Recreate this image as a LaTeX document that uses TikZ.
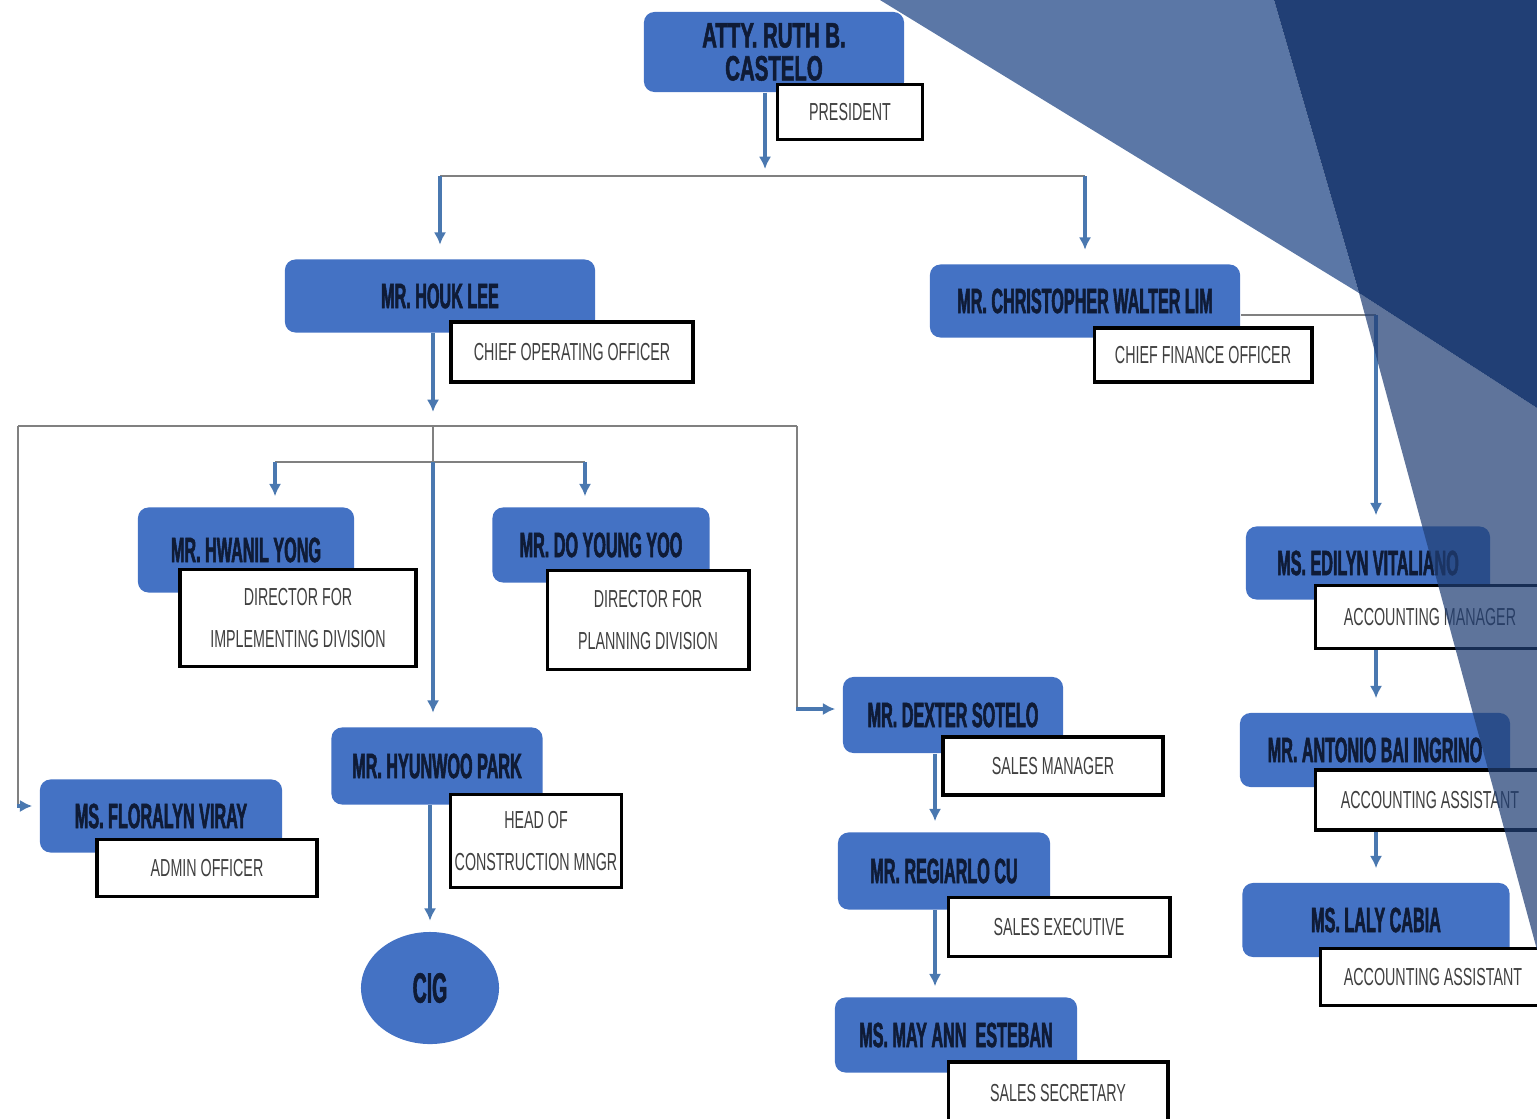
\documentclass[tikz,border=0pt]{standalone}
\usepackage{fontspec}
\usepackage{tikz}
\usetikzlibrary{shapes,arrows,arrows.meta,positioning}
\newfontfamily\namefont[FakeStretch=0.46,BoldFeatures={FakeBold=1.5}]{Liberation Sans}
\newfontfamily\presfont[FakeStretch=0.58,BoldFeatures={FakeBold=1.5}]{Liberation Sans}
\newfontfamily\titlefont[FakeStretch=0.58]{Liberation Sans}
\definecolor{boxblue}{HTML}{4472C4}
\definecolor{namecol}{HTML}{0F1B36}
\definecolor{linkblue}{HTML}{4A78B0}
\definecolor{slate}{HTML}{5B77A6}
\definecolor{navy}{HTML}{213F75}

\begin{document}
\begin{tikzpicture}[x=0.01cm, y=-0.01cm, >={Latex[length=3.5pt,width=3.5pt]},
  namebox/.style={rectangle, rounded corners=3pt, fill=boxblue, text=namecol,
    font=\namefont\bfseries\fontsize{10}{11}\selectfont, inner sep=0pt},
  titlebox/.style={rectangle, draw=black, line width=1.1pt, fill=white, text=black!75,
    font=\titlefont\fontsize{7}{12}\selectfont, align=center, inner sep=0pt},
  link/.style={->, draw=linkblue, line width=1.1pt, shorten >=2pt},
  bus/.style={draw=black!50, line width=0.6pt}]
  \useasboundingbox (0,0) rectangle (1537,1118);
  \clip (0,0) rectangle (1537,1118);

  \coordinate (top) at (765,176);
  \coordinate (mid) at (433,426);
  \coordinate (sub) at (433,462);
  \coordinate (left) at (18,426);
  \coordinate (right) at (797,426);
  \coordinate (sales) at (935,0);
  \coordinate (acct) at (1376,0);

  \node[namebox, minimum width=2.6cm, minimum height=0.8cm, align=center,
    font=\presfont\bfseries\fontsize{10}{9.4}\selectfont] (pres) at (774,52) {ATTY. RUTH B.\\CASTELO};
  \node[titlebox, minimum width=1.45cm, minimum height=0.55cm] (pres-t) at (850,112) {PRESIDENT};

  \node[namebox, minimum width=3.1cm, minimum height=0.73cm] (houk) at (440,296) {MR. HOUK LEE};
  \node[titlebox, minimum width=2.42cm, minimum height=0.6cm] (houk-t) at (572,352) {CHIEF OPERATING OFFICER};

  \node[namebox, minimum width=3.1cm, minimum height=0.73cm] (cfo) at (1085,301) {MR. CHRISTOPHER WALTER LIM};
  \node[titlebox, minimum width=2.17cm, minimum height=0.54cm] (cfo-t) at (1203,355) {CHIEF FINANCE OFFICER};

  \node[namebox, minimum width=2.16cm, minimum height=0.85cm] (hwanil) at (246,550) {MR. HWANIL YONG};
  \node[titlebox, minimum width=2.36cm, minimum height=0.97cm] (hwanil-t) at (298,618) {DIRECTOR FOR\\IMPLEMENTING DIVISION};

  \node[namebox, minimum width=2.17cm, minimum height=0.75cm] (doyoung) at (601,545) {MR. DO YOUNG YOO};
  \node[titlebox, minimum width=2.01cm, minimum height=0.99cm] (doyoung-t) at (648,620) {DIRECTOR FOR\\PLANNING DIVISION};

  \node[namebox, minimum width=2.11cm, minimum height=0.77cm] (hyunwoo) at (437,766) {MR. HYUNWOO PARK};
  \node[titlebox, minimum width=1.71cm, minimum height=0.93cm] (hyunwoo-t) at (536,841) {HEAD OF\\CONSTRUCTION MNGR};
  \node[ellipse, fill=boxblue, text=namecol, minimum width=1.38cm, minimum height=1.12cm,
    font=\namefont\bfseries\fontsize{12}{13}\selectfont] (cig) at (430,988) {CIG};

  \node[namebox, minimum width=2.42cm, minimum height=0.73cm] (floralyn) at (161,816) {MS. FLORALYN VIRAY};
  \node[titlebox, minimum width=2.2cm, minimum height=0.57cm] (floralyn-t) at (207,868) {ADMIN OFFICER};

  \node[namebox, minimum width=2.2cm, minimum height=0.76cm] (dexter) at (953,715) {MR. DEXTER SOTELO};
  \node[titlebox, minimum width=2.2cm, minimum height=0.58cm] (dexter-t) at (1053,766) {SALES MANAGER};

  \node[namebox, minimum width=2.12cm, minimum height=0.77cm] (regiarlo) at (944,871) {MR. REGIARLO CU};
  \node[titlebox, minimum width=2.21cm, minimum height=0.59cm] (regiarlo-t) at (1059,927) {SALES EXECUTIVE};

  \node[namebox, minimum width=2.42cm, minimum height=0.75cm] (mayann) at (956,1035) {MS. MAY ANN\ \ ESTEBAN};
  \node[titlebox, minimum width=2.19cm, minimum height=0.62cm] (mayann-t) at (1058,1093) {SALES SECRETARY};

  \node[namebox, minimum width=2.44cm, minimum height=0.73cm] (edilyn) at (1368,563) {MS. EDILYN VITALIANO};
  \node[titlebox, minimum width=2.29cm, minimum height=0.63cm] (edilyn-t) at (1430,617) {ACCOUNTING MANAGER};

  \node[namebox, minimum width=2.7cm, minimum height=0.74cm] (antonio) at (1375,750) {MR. ANTONIO BAI INGRINO};
  \node[titlebox, minimum width=2.29cm, minimum height=0.6cm] (antonio-t) at (1430,800) {ACCOUNTING ASSISTANT};

  \node[namebox, minimum width=2.67cm, minimum height=0.74cm] (laly) at (1376,920) {MS. LALY CABIA};
  \node[titlebox, minimum width=2.25cm, minimum height=0.57cm] (laly-t) at (1433,977) {ACCOUNTING ASSISTANT};

  \coordinate (hw in) at ([xshift=0.29cm]hwanil.north);
  \coordinate (dy in) at ([xshift=-0.16cm]doyoung.north);
  \coordinate (fl in) at ([xshift=-0.22cm,yshift=0.1cm]floralyn.west);
  \coordinate (dx in) at ([xshift=-0.46cm,yshift=0.06cm]dexter.west);
  \coordinate (cf out) at ([yshift=-0.14cm]cfo.east);

  \draw[link] (pres.south -| top) -- (top);
  \draw[bus] (houk.north |- top) -- (cfo.north |- top);
  \draw[link, shorten >=4pt] (houk.north |- top) -- (houk.north);
  \draw[link, shorten >=4pt] (cfo.north |- top) -- (cfo.north);
  \draw[link, shorten >=4pt] (houk.south -| mid) -- (mid);
  \draw[bus] (left) -- (right);
  \draw[bus] (mid) -- (sub);
  \draw[bus] (hw in |- sub) -- (dy in |- sub);
  \draw[link, shorten >=3pt] (hw in |- sub) -- (hw in);
  \draw[link, shorten >=3pt] (dy in |- sub) -- (dy in);
  \draw[link, shorten >=4pt] (sub) -- (sub |- hyunwoo.north);
  \draw[bus] (left) |- (fl in);
  \draw[link] (fl in) -- (fl in -| floralyn.west);
  \draw[bus] (right) |- (dx in);
  \draw[link] (dx in) -- (dx in -| dexter.west);
  \draw[link, shorten >=3pt] (hyunwoo.south -| cig) -- (cig.north);
  \draw[link, shorten >=3pt] (dexter.south -| sales) -- (regiarlo.north -| sales);
  \draw[link, shorten >=3pt] (regiarlo.south -| sales) -- (mayann.north -| sales);
  \draw[bus] (cf out) -- (cf out -| acct);
  \draw[link, shorten >=3pt] (cf out -| acct) -- (acct |- edilyn.north);
  \draw[link, shorten >=4pt] (edilyn-t.south -| acct) -- (acct |- antonio.north);
  \draw[link, shorten >=4pt] (antonio-t.south -| acct) -- (acct |- laly.north);

  \fill[slate] (880,0) -- (1274,0) -- (1359,293) -- cycle;
  \fill[navy] (1274,0) -- (1537,0) -- (1537,408) -- (1359,293) -- cycle;
  \fill[navy, opacity=0.72] (1359,293) -- (1537,408) -- (1537,950) -- cycle;
\end{tikzpicture}
\end{document}
